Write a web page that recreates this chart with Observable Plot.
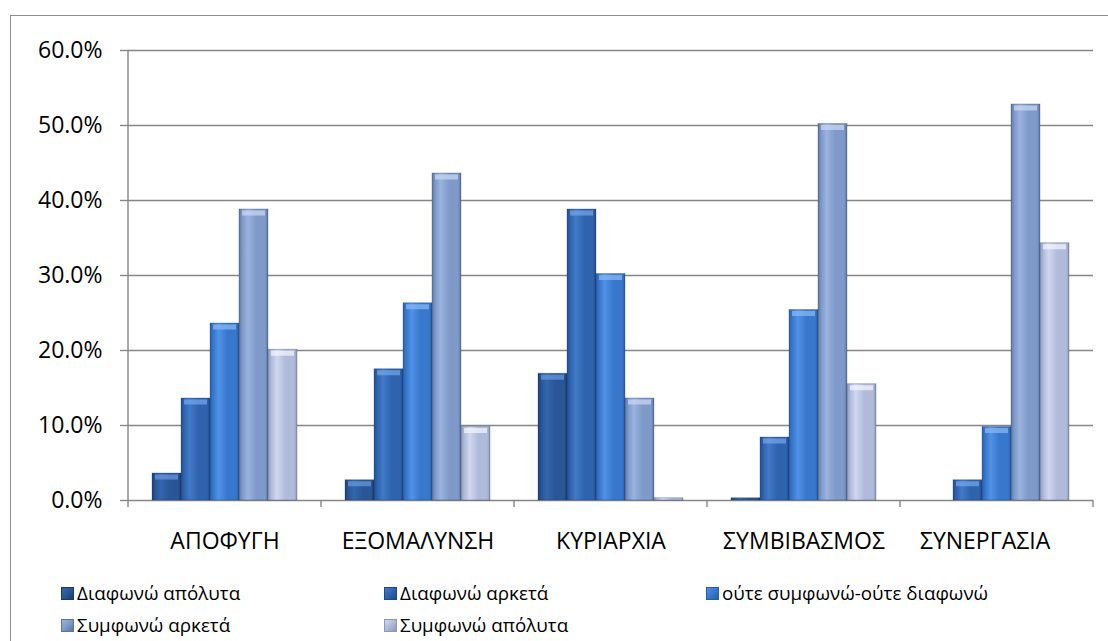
<!DOCTYPE html>
<html>
<head>
<meta charset="utf-8">
<script src="https://cdn.jsdelivr.net/npm/d3@7"></script>
<script src="https://cdn.jsdelivr.net/npm/@observablehq/plot@0.6"></script>
<style>
  html, body { margin: 0; padding: 0; background: #fff; overflow: hidden; }
  #frame {
    position: absolute; left: 10px; top: 15px; width: 1110px; height: 640px;
    border-left: 1.5px solid #8e8e8e; border-top: 1.5px solid #8e8e8e;
    box-sizing: border-box; z-index: 2; pointer-events: none;
  }
  #chart { position: absolute; left: 0; top: 0; }
  .legend { position: absolute; font-family: "Open Sans", "Noto Sans", sans-serif; font-size: 18.8px; color: #000; white-space: nowrap; }
  .legend .item { position: absolute; display: flex; align-items: center; height: 24px; }
  .legend .sw { width: 13px; height: 13px; margin-right: 3px; box-sizing: border-box; }
</style>
</head>
<body>
<div id="chart"></div>
<div class="legend" id="legend"></div>
<div id="frame"></div>
<script>
// Conflict-handling styles and the share of answers per agreement level (%)
const categories = ["ΑΠΟΦΥΓΗ", "ΕΞΟΜΑΛΥΝΣΗ", "ΚΥΡΙΑΡΧΙΑ", "ΣΥΜΒΙΒΑΣΜΟΣ", "ΣΥΝΕΡΓΑΣΙΑ"];
const responses = ["Διαφωνώ απόλυτα", "Διαφωνώ αρκετά", "ούτε συμφωνώ-ούτε διαφωνώ", "Συμφωνώ αρκετά", "Συμφωνώ απόλυτα"];
const disagreeFully    = [3.6, 2.7, 16.9, 0.3, 0.0];
const disagreeSomewhat = [13.6, 17.5, 38.8, 8.4, 2.7];
const neitherNor       = [23.6, 26.3, 30.2, 25.4, 9.8];
const agreeSomewhat    = [38.8, 43.6, 13.6, 50.2, 52.8];
const agreeFully       = [20.1, 9.8, 0.3, 15.5, 34.3];
const yTicks = [0, 10, 20, 30, 40, 50, 60];
// the last category name carries trailing blanks in the source sheet
const trailingBlanks = [0, 0, 0, 0, 4];

const seriesValues = [disagreeFully, disagreeSomewhat, neitherNor, agreeSomewhat, agreeFully];
const table = [];
categories.forEach((c, i) => responses.forEach((r, j) => table.push({category: c, response: r, k: j, value: seriesValues[j][i]})));

// Cylinder-like shading for each response level: [edge, light, body, dark edge]
const shades = [
  ["#1c3f74", "#3366ad", "#2a5697", "#1a3a6c"],
  ["#22508f", "#407ac8", "#2f63ae", "#1f4986"],
  ["#2a62ae", "#4f92e8", "#3878cc", "#275ca6"],
  ["#61789f", "#9ab3df", "#7f99c9", "#5d749c"],
  ["#8f99b8", "#d0d7ef", "#b0bad9", "#8d97b6"]
];
const caps = ["#6a9be0", "#78a8ec", "#8abaf4", "#cbdaf3", "#f6f8fd"];
const gradUrl = shades.map((_, j) => `url(#shade${j})`);

const W = 1108, H = 560;
const chart = Plot.plot({
  width: W, height: H,
  marginLeft: 128, marginRight: 15, marginTop: 50, marginBottom: 60,
  style: {fontFamily: "'Open Sans', 'Noto Sans', sans-serif", color: "#000", background: "transparent", overflow: "visible"},
  fx: {domain: categories, padding: 0, label: null},
  x: {domain: responses, paddingOuter: 0.717, paddingInner: 0, axis: null},
  y: {domain: [0, 60], label: null},
  color: {type: "identity"},
  marks: [
    Plot.gridY(yTicks, {stroke: "#868686", strokeOpacity: 1, strokeWidth: 1.4}),
    Plot.axisY(yTicks, {tickSize: 8, tickPadding: 18, stroke: "#868686", strokeWidth: 1.4, fontSize: 23, tickFormat: d => d.toFixed(1) + "%", label: null}),
    Plot.axisFx({anchor: "bottom", tickSize: 0, tickPadding: 32, fontSize: 23, label: null,
      tickFormat: c => c + "\u00a0".repeat(trailingBlanks[categories.indexOf(c)])}),
    Plot.barY(table, {fx: "category", x: "response", y: "value", fill: d => gradUrl[d.k], stroke: "#1b355f", strokeOpacity: 0.35, strokeWidth: 0.8}),
    Plot.tickY(table.filter(d => d.value >= 1), {fx: "category", x: "response", y: "value", stroke: d => caps[d.k], strokeWidth: 5, strokeOpacity: 0.7, dy: 3.5, insetLeft: 3, insetRight: 3})
  ]
});

// gradient definitions referenced by the bar fills
const svg = d3.select(chart.tagName.toLowerCase() === "svg" ? chart : chart.querySelector("svg"));
const defs = svg.insert("defs", ":first-child");
shades.forEach((s, j) => {
  const g = defs.append("linearGradient").attr("id", `shade${j}`).attr("x1", 0).attr("x2", 1).attr("y1", 0).attr("y2", 0);
  [[0, s[0]], [0.12, s[2]], [0.3, s[1]], [0.6, s[2]], [0.9, s[2]], [1, s[3]]].forEach(([o, c]) =>
    g.append("stop").attr("offset", o).attr("stop-color", c));
});

// value axis line and category boundary ticks
const fx = chart.scale("fx");
const y = chart.scale("y");
const y0 = y.apply(0), yTop = y.apply(60);
const bounds = categories.map(c => fx.apply(c)).concat([fx.apply(categories[categories.length - 1]) + fx.bandwidth]);
const deco = svg.append("g").attr("stroke", "#868686").attr("stroke-width", 1.4);
deco.append("line").attr("x1", bounds[0]).attr("x2", bounds[0]).attr("y1", yTop).attr("y2", y0 + 7);
bounds.slice(1).forEach(b => deco.append("line").attr("x1", b).attr("x2", b).attr("y1", y0).attr("y2", y0 + 7));

document.getElementById("chart").appendChild(chart);

// legend: three columns, two rows
const legend = document.getElementById("legend");
const colX = [61, 384, 706], rowY = [581, 613];
responses.forEach((r, j) => {
  const item = document.createElement("div");
  item.className = "item";
  item.style.left = colX[j % 3] + "px";
  item.style.top = rowY[Math.floor(j / 3)] + "px";
  const sw = document.createElement("span");
  sw.className = "sw";
  const s = shades[j];
  sw.style.background = `linear-gradient(135deg, ${s[1]} 0%, ${s[2]} 50%, ${s[3]} 100%)`;
  sw.style.border = `1px solid ${s[3]}`;
  const t = document.createElement("span");
  t.textContent = r;
  item.appendChild(sw);
  item.appendChild(t);
  legend.appendChild(item);
});
</script>
</body>
</html>
